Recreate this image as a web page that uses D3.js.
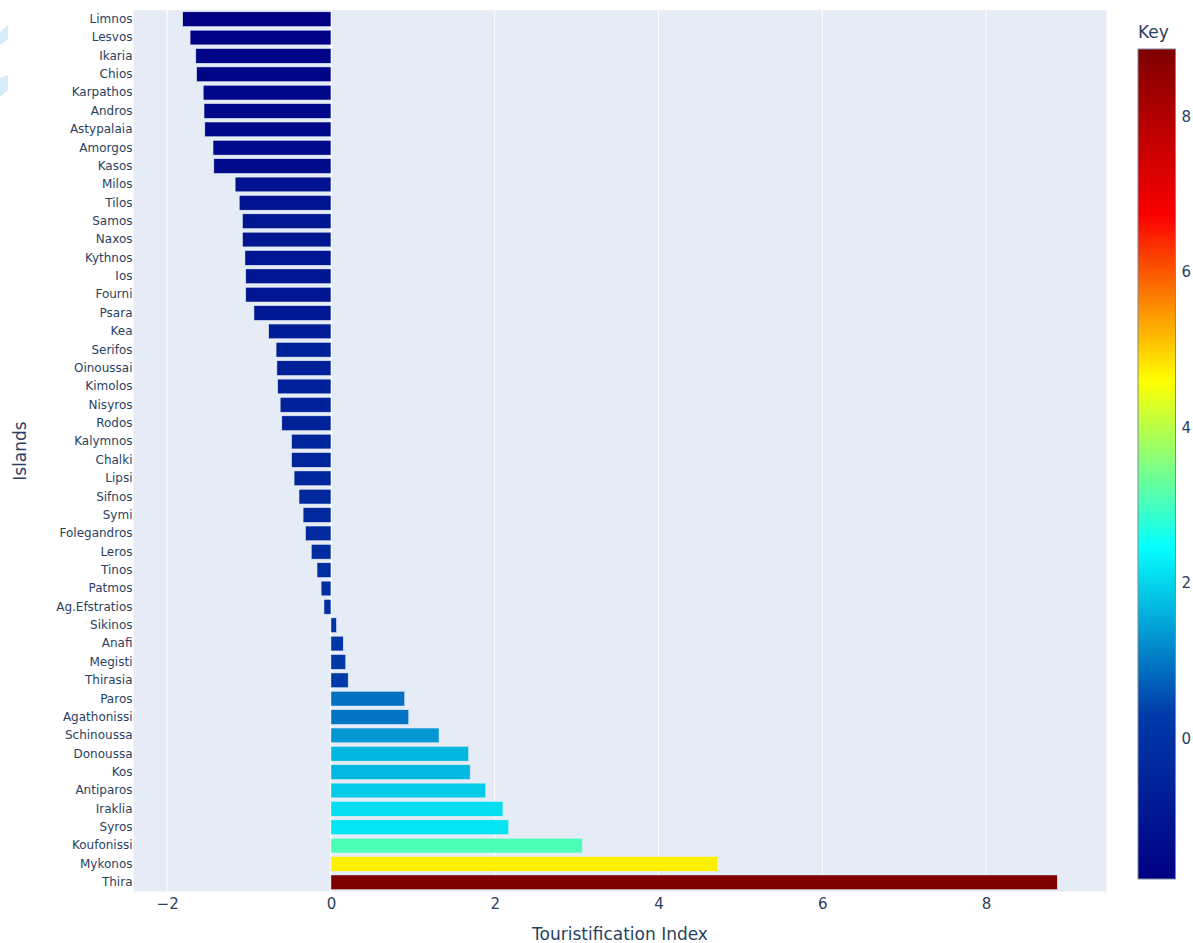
<!DOCTYPE html>
<html>
<head>
<meta charset="utf-8">
<script src="https://cdn.jsdelivr.net/npm/d3@7"></script>
<style>
  html, body { margin: 0; padding: 0; background: #ffffff; }
  svg { display: block; }
  text { font-family: "DejaVu Sans", Verdana, sans-serif; fill: #2a3f5f; }
</style>
</head>
<body>
<svg id="chart" width="1193" height="943"></svg>
<script>
// ---- data ----
const islands = [
  "Limnos","Lesvos","Ikaria","Chios","Karpathos","Andros","Astypalaia","Amorgos","Kasos","Milos",
  "Tilos","Samos","Naxos","Kythnos","Ios","Fourni","Psara","Kea","Serifos","Oinoussai",
  "Kimolos","Nisyros","Rodos","Kalymnos","Chalki","Lipsi","Sifnos","Symi","Folegandros","Leros",
  "Tinos","Patmos","Ag.Efstratios","Sikinos","Anafi","Megisti","Thirasia","Paros","Agathonissi","Schinoussa",
  "Donoussa","Kos","Antiparos","Iraklia","Syros","Koufonissi","Mykonos","Thira"
];
const touristificationIndex = [
  -1.81,-1.72,-1.65,-1.64,-1.56,-1.55,-1.54,-1.44,-1.43,-1.17,
  -1.12,-1.08,-1.08,-1.05,-1.04,-1.04,-0.94,-0.76,-0.67,-0.66,
  -0.65,-0.62,-0.60,-0.48,-0.48,-0.45,-0.39,-0.34,-0.31,-0.24,
  -0.17,-0.12,-0.085,0.067,0.15,0.18,0.21,0.90,0.95,1.32,
  1.68,1.70,1.89,2.10,2.17,3.07,4.72,8.87
];
const xTicks = [-2, 0, 2, 4, 6, 8];
const colorbarTicks = [0, 2, 4, 6, 8];
// Jet colour sequence, evenly spaced
const jetColors = ["rgb(0,0,131)","rgb(0,60,170)","rgb(5,255,255)","rgb(255,255,0)","rgb(250,0,0)","rgb(128,0,0)"];
const jetStops = jetColors.map((c, i) => i / (jetColors.length - 1));

// ---- layout ----
const svg = d3.select("#chart");
const W = 1193, H = 943;
const plot = { left: 133.5, right: 1106.5, top: 10, bottom: 891.5 };
const cb = { left: 1138, right: 1175.5, top: 49, bottom: 879 };

svg.append("rect").attr("width", W).attr("height", H).attr("fill", "#ffffff");

// decorative light-blue shapes at the top-left edge of the reference picture
svg.append("path").attr("d", "M0,32 L8,25 L8,39 L0,45 Z").attr("fill", "#d5edfb");
svg.append("path").attr("d", "M0,78 L8,75 L8,90 L0,97 Z").attr("fill", "#d5edfb");

const vmin = d3.min(touristificationIndex), vmax = d3.max(touristificationIndex);
const pad = (vmax - vmin) * 0.0563;
const x = d3.scaleLinear().domain([vmin - pad, vmax + pad]).range([plot.left, plot.right]);
const y = d3.scaleBand().domain(islands).range([plot.top, plot.bottom]).paddingInner(0.2).paddingOuter(0.1);

const jetT = d3.scaleLinear().domain(jetStops).range(jetColors).interpolate(d3.interpolateRgb);
const color = v => jetT((v - vmin) / (vmax - vmin));

// plot background
svg.append("rect")
  .attr("x", plot.left).attr("y", plot.top)
  .attr("width", plot.right - plot.left).attr("height", plot.bottom - plot.top)
  .attr("fill", "#E5ECF6");

// vertical gridlines
svg.append("g").selectAll("line").data(xTicks.filter(t => t !== 0)).join("line")
  .attr("x1", d => x(d)).attr("x2", d => x(d))
  .attr("y1", plot.top).attr("y2", plot.bottom)
  .attr("stroke", "#ffffff").attr("stroke-width", 1);
// zero line
svg.append("line")
  .attr("x1", x(0)).attr("x2", x(0)).attr("y1", plot.top).attr("y2", plot.bottom)
  .attr("stroke", "#ffffff").attr("stroke-width", 2);

// bars
svg.append("g").selectAll("rect").data(islands.map((n, i) => ({ n, v: touristificationIndex[i] }))).join("rect")
  .attr("x", d => Math.min(x(0), x(d.v)))
  .attr("width", d => Math.abs(x(d.v) - x(0)))
  .attr("y", d => y(d.n))
  .attr("height", y.bandwidth())
  .attr("fill", d => color(d.v))
  .attr("stroke", "#E5ECF6").attr("stroke-width", 0.5);

// y axis labels
const yAxis = d3.axisLeft(y).tickSize(0).tickPadding(1);
const gy = svg.append("g").attr("transform", `translate(${plot.left},0)`).call(yAxis);
gy.select(".domain").remove();
gy.selectAll("text").style("font-family", '"DejaVu Sans", Verdana, sans-serif').style("font-size", "12px").attr("fill", "#2a3f5f");

// x axis labels
const xAxis = d3.axisBottom(x).tickValues(xTicks).tickSize(0).tickPadding(0)
  .tickFormat(d => d < 0 ? "\u2212" + Math.abs(d) : String(d));
const gx = svg.append("g").attr("transform", `translate(0,${plot.bottom})`).call(xAxis);
gx.select(".domain").remove();
gx.selectAll("text").attr("dy", null).attr("y", 17.5)
  .style("font-family", '"DejaVu Sans", Verdana, sans-serif').style("font-size", "15px").attr("fill", "#2a3f5f");

// axis titles
svg.append("text").attr("x", (plot.left + plot.right) / 2).attr("y", 940)
  .attr("text-anchor", "middle").style("font-size", "17px").text("Touristification Index");
svg.append("text").attr("transform", "translate(26,451) rotate(-90)")
  .attr("text-anchor", "middle").style("font-size", "17px").text("Islands");

// colorbar
const defs = svg.append("defs");
const grad = defs.append("linearGradient").attr("id", "jetGrad")
  .attr("x1", 0).attr("y1", 1).attr("x2", 0).attr("y2", 0);
grad.selectAll("stop").data(jetStops).join("stop")
  .attr("offset", d => d).attr("stop-color", (d, i) => jetColors[i]);
svg.append("rect")
  .attr("x", cb.left).attr("y", cb.top)
  .attr("width", cb.right - cb.left).attr("height", cb.bottom - cb.top)
  .attr("fill", "url(#jetGrad)")
  .attr("stroke", "#7f8a99").attr("stroke-width", 1);
const cy = d3.scaleLinear().domain([vmin, vmax]).range([cb.bottom, cb.top]);
const cAxis = d3.axisRight(cy).tickValues(colorbarTicks).tickSize(0).tickPadding(0).tickFormat(d3.format("d"));
const gc = svg.append("g").attr("transform", `translate(${cb.right + 6},0)`).call(cAxis);
gc.select(".domain").remove();
gc.selectAll("text").style("font-family", '"DejaVu Sans", Verdana, sans-serif').style("font-size", "15px").attr("fill", "#2a3f5f");
svg.append("text").attr("x", cb.left).attr("y", 38).attr("text-anchor", "start")
  .style("font-size", "17px").text("Key");
</script>
</body>
</html>
